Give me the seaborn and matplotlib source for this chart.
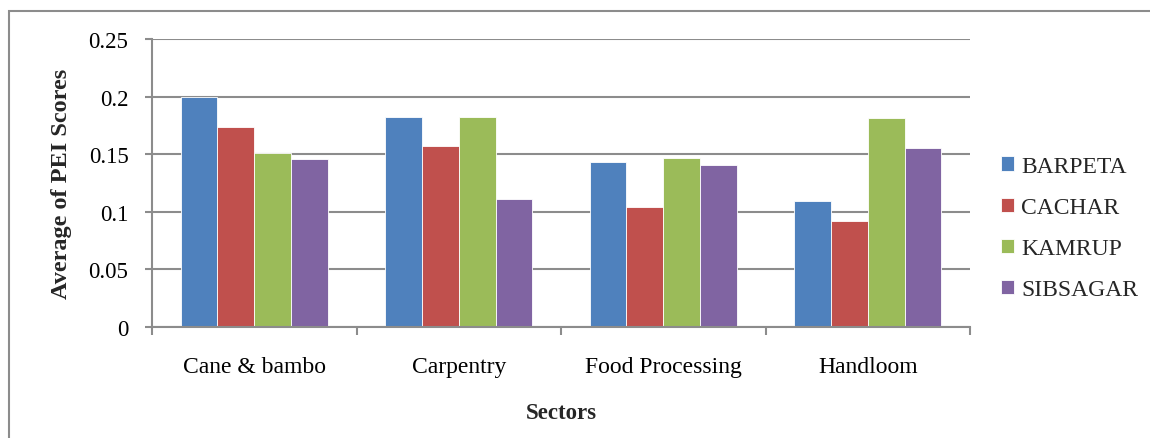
import numpy as np
import pandas as pd
import matplotlib
matplotlib.use("Agg")
import matplotlib.pyplot as plt
from matplotlib.patches import Rectangle
from matplotlib.ticker import FuncFormatter, FixedLocator
import seaborn as sns

sectors = ["Cane & bambo", "Carpentry", "Food Processing", "Handloom"]
districts = ["BARPETA", "CACHAR", "KAMRUP", "SIBSAGAR"]
barpeta = [0.200, 0.182, 0.143, 0.109]
cachar = [0.174, 0.157, 0.104, 0.092]
kamrup = [0.151, 0.182, 0.147, 0.181]
sibsagar = [0.146, 0.111, 0.141, 0.155]
colors = ["#4F81BD", "#C0504D", "#9BBB59", "#8064A2"]

df = pd.DataFrame({
    "Sector": sectors * 4,
    "District": sum([[d] * 4 for d in districts], []),
    "Score": barpeta + cachar + kamrup + sibsagar,
})

sns.set_theme(style="white")
plt.rcParams["font.family"] = ["Liberation Serif", "DejaVu Serif"]

fig = plt.figure(figsize=(11.5, 4.39), dpi=100)
ax = fig.add_axes([152 / 1150, 1 - 328 / 439, (970 - 152) / 1150, (328 - 40) / 439])

sns.barplot(data=df, x="Sector", y="Score", hue="District", order=sectors,
            hue_order=districts, palette=colors, width=0.72, gap=0,
            edgecolor="white", linewidth=0.6, saturation=1, ax=ax)

grid_c = "#8C8C8C"
ax.set_ylim(0, 0.25)
ax.set_xlim(-0.5, 3.5)
ax.set_yticks(np.arange(0, 0.2501, 0.05))
ax.yaxis.set_major_formatter(FuncFormatter(lambda v, p: f"{v:g}"))
ax.yaxis.grid(True, color=grid_c, linewidth=1.5)
ax.set_axisbelow(True)
ax.tick_params(axis="y", which="major", length=5, width=1.5, color=grid_c,
               pad=12, labelsize=16.5, labelcolor="black", left=True)
ax.tick_params(axis="x", which="major", length=0, pad=21, labelsize=17,
               labelcolor="black")
ax.xaxis.set_minor_locator(FixedLocator([-0.5, 0.5, 1.5, 2.5, 3.5]))
ax.tick_params(axis="x", which="minor", length=6, width=1.5, color=grid_c,
               bottom=True)

for side in ["top", "right"]:
    ax.spines[side].set_visible(False)
for side in ["left", "bottom"]:
    ax.spines[side].set_color(grid_c)
    ax.spines[side].set_linewidth(1.5)

ax.set_xlabel("Sectors", fontsize=16.5, fontweight="bold", labelpad=18)
ax.set_ylabel("Average of PEI Scores", fontsize=17.5, fontweight="bold", labelpad=12)

handles, labels = ax.get_legend_handles_labels()
ax.legend(handles, labels, loc="center left", bbox_to_anchor=(980 / 1150, 1 - 229 / 439),
          bbox_transform=fig.transFigure, frameon=False, fontsize=17,
          handlelength=0.55, handleheight=0.55, handletextpad=0.3, labelspacing=0.85)

fig.patches.append(Rectangle((9 / 1150, -0.05), 1.2, 1 - 12 / 439 + 0.05,
                             transform=fig.transFigure, fill=False,
                             edgecolor="#8C8C8C", linewidth=1.5))

fig.savefig("out.png", dpi=100, facecolor="white")
